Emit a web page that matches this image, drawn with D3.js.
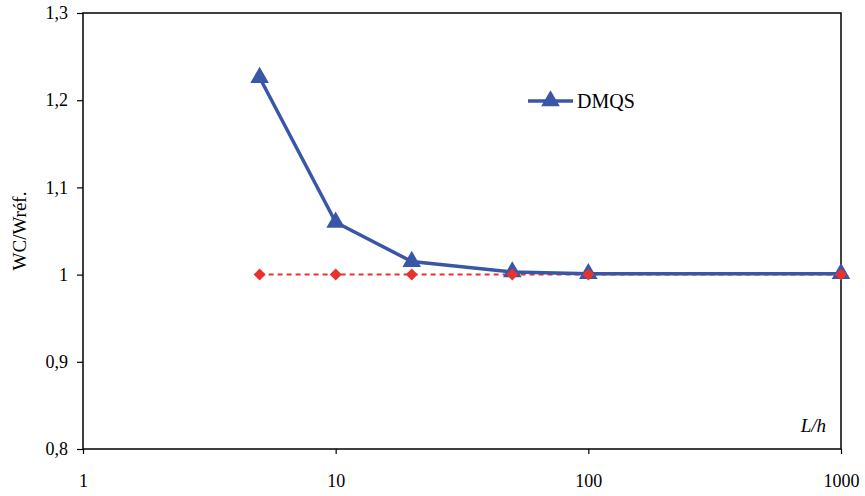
<!DOCTYPE html>
<html>
<head>
<meta charset="utf-8">
<script src="https://cdn.jsdelivr.net/npm/d3@7"></script>
<style>
  body { margin: 0; background: #fff; }
  text { font-family: "Liberation Serif", "Times New Roman", serif; }
</style>
</head>
<body>
<div id="chart"></div>
<script>
let ratios = [5, 10, 20, 50, 100, 1000]
let dmqs = [1.226, 1.060, 1.015, 1.003, 1.001, 1.001]
let reference = [1, 1, 1, 1, 1, 1]
let xTicks = [1, 10, 100, 1000]
let yTicks = [0.8, 0.9, 1.0, 1.1, 1.2, 1.3]
let yTickLabels = ['0,8', '0,9', '1', '1,1', '1,2', '1,3']

let width = 865
let height = 496
let margin = {left: 83, right: 24, top: 13, bottom: 47}

let svg = d3.select('#chart')
  .append('svg')
    .attr('width', width)
    .attr('height', height)

let x = d3.scaleLog().domain([1, 1000]).range([margin.left, width - margin.right])
let y = d3.scaleLinear().domain([0.8, 1.3]).range([height - margin.bottom, margin.top])

let blue = '#3a56a6'
let red = '#e8332c'
let serif = '"Liberation Serif", "Times New Roman", serif'

// frame
svg.append('rect')
  .attr('x', x(1))
  .attr('y', y(1.3))
  .attr('width', x(1000) - x(1))
  .attr('height', y(0.8) - y(1.3))
  .attr('fill', 'none')
  .attr('stroke', '#000')
  .attr('stroke-width', 1.5)

let yAxis = svg.append('g')
  .attr('transform', `translate(${x(1)},0)`)
  .call(d3.axisLeft(y).tickValues(yTicks).tickFormat((d, i) => yTickLabels[i]).tickSize(6).tickPadding(9))
yAxis.select('.domain').remove()
yAxis.selectAll('line').attr('stroke-width', 1.2)
yAxis.selectAll('text').attr('font-size', 18).attr('font-family', serif).attr('fill', '#000')

let xAxis = svg.append('g')
  .attr('transform', `translate(0,${y(0.8)})`)
  .call(d3.axisBottom(x).tickValues(xTicks).tickFormat(d3.format('d')).tickSize(5).tickPadding(20))
xAxis.select('.domain').remove()
xAxis.selectAll('line').attr('stroke-width', 1.2)
xAxis.selectAll('text').attr('font-size', 18).attr('font-family', serif).attr('fill', '#000')

// reference line
let refData = ratios.map((r, i) => ({r: r, v: reference[i]}))
svg.append('path')
  .datum(refData)
  .attr('fill', 'none')
  .attr('stroke', red)
  .attr('stroke-width', 2)
  .attr('stroke-dasharray', '5,4')
  .attr('d', d3.line().x(d => x(d.r)).y(d => y(d.v)))

// DMQS line
let dmqsData = ratios.map((r, i) => ({r: r, v: dmqs[i]}))
svg.append('path')
  .datum(dmqsData)
  .attr('fill', 'none')
  .attr('stroke', blue)
  .attr('stroke-width', 3.5)
  .attr('d', d3.line().x(d => x(d.r)).y(d => y(d.v)))

let tri = d3.symbol().type(d3.symbolTriangle).size(150)
svg.selectAll('.tri')
  .data(dmqsData)
  .enter()
  .append('path')
    .attr('class', 'tri')
    .attr('d', tri)
    .attr('fill', blue)
    .attr('transform', d => `translate(${x(d.r)},${y(d.v)})`)

let dia = d3.symbol().type(d3.symbolSquare).size(72)
svg.selectAll('.dia')
  .data(refData)
  .enter()
  .append('path')
    .attr('class', 'dia')
    .attr('d', dia)
    .attr('fill', red)
    .attr('transform', d => `translate(${x(d.r)},${y(d.v)}) rotate(45)`)

// legend
let legend = svg.append('g').attr('transform', 'translate(528,101)')
legend.append('line')
  .attr('x1', 0).attr('x2', 45)
  .attr('stroke', blue).attr('stroke-width', 3.5)
legend.append('path')
  .attr('d', tri)
  .attr('fill', blue)
  .attr('transform', 'translate(22.5,0)')
legend.append('text')
  .attr('x', 49).attr('y', 7)
  .attr('font-size', 20)
  .text('DMQS')

// axis titles
svg.append('text')
  .attr('transform', `translate(26,${(y(0.8) + y(1.3)) / 2}) rotate(-90)`)
  .attr('text-anchor', 'middle')
  .attr('font-size', 19)
  .text('WC/Wréf.')

svg.append('text')
  .attr('x', 826).attr('y', 432)
  .attr('text-anchor', 'end')
  .attr('font-size', 19)
  .attr('font-style', 'italic')
  .text('L/h')
</script>
</body>
</html>
